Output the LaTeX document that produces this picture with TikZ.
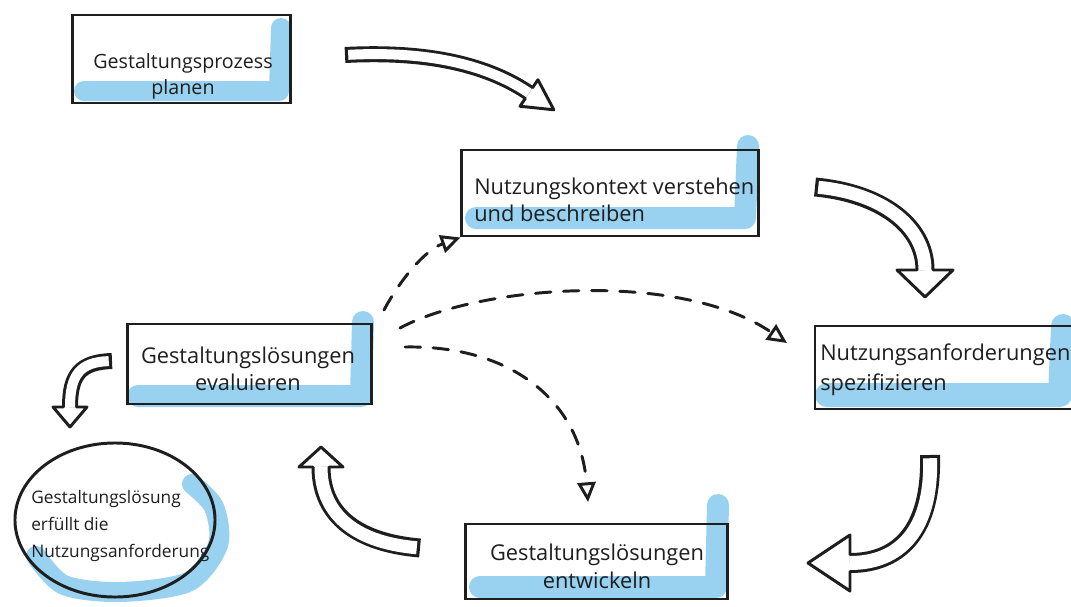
\documentclass[tikz,border=0pt]{standalone}
\usepackage{fontspec}
\setmainfont{Open Sans}
\usetikzlibrary{arrows.meta,decorations.markings,shapes.geometric}
\definecolor{ink}{RGB}{30,30,30}
\definecolor{marker}{RGB}{128,198,236}

% Hollow block arrow: #1 inner shaft width, #2 head half width, #3 head length (all in px), #4 path
\newcommand{\hollowarrow}[4]{%
  \draw[ink, line width={(#1+6)*0.025cm}] #4;
  \draw[white, line width={#1*0.025cm}, shorten <=2.3pt] #4;
  \path[postaction={decorate, decoration={markings, mark=at position 0.9999 with {%
    \draw[ink, line width=2.1pt, line join=round, line cap=round]
      (0,#1/2+1.5) -- (0,#2) -- (#3,0) -- (0,-#2) -- (0,-#1/2-1.5);}}}] #4;
}

\tikzset{
  box/.style={draw=ink, line width=2.1pt, rectangle, inner sep=0pt},
  bubble/.style={draw=ink, line width=2.1pt, ellipse, inner sep=0pt},
  lbl/.style={text=ink, inner sep=0pt, font=\fontsize{15.5}{19}\selectfont},
  hilite/.style={draw=marker, line cap=round, line join=round, opacity=0.8},
  dasharrow/.style={ink, line width=2.1pt, line cap=round, dash pattern=on 11pt off 9pt,
    -{Triangle[open, length=14pt, width=13pt]}},
}

\begin{document}
\begin{tikzpicture}[x=0.025cm, y=-0.025cm]
\useasboundingbox (0,0) rectangle (1071,606);

% marker strokes behind the boxes
\draw[hilite, line width=0.5cm] (84,91) -- (279,91) -- (281,28);
\draw[hilite, line width=0.55cm] (476,218) -- (745,218) -- (748,146);
\draw[hilite, line width=0.6cm] (827,395) -- (1060,395) -- (1063,326);
\draw[hilite, line width=0.55cm] (480,587) -- (716,587) -- (718,505);
\draw[hilite, line width=0.55cm] (138,396) -- (361,396) -- (363,322);
\draw[hilite, line width=0.5cm] plot[smooth] coordinates
  {(36,556) (64,585) (120,592) (188,582) (218,545) (214,507) (192,484)};

% process steps
\node[box, minimum width=5.425cm, minimum height=2.2cm] (plan) at (181.5,59) {};
\node[lbl, align=center, font=\fontsize{14}{18.5}\selectfont] (planlbl) at (183,76)
  {Gestaltungsprozess\\planen};

\node[box, minimum width=7.4cm, minimum height=2.15cm] (kontext) at (610,193) {};
\node[lbl, align=left, anchor=west] (kontextlbl) at (474,200)
  {Nutzungskontext verstehen\\und beschreiben};

\node[box, minimum width=6.625cm, minimum height=2.075cm] (anford) at (947.5,367.5) {};
\node[lbl, align=left, anchor=west, font=\fontsize{15.5}{21}\selectfont] (anfordlbl) at (820,370)
  {Nutzungsanforderungen\\spezifizieren};

\node[box, minimum width=6.525cm, minimum height=1.875cm] (entw) at (596.5,561.5) {};
\node[lbl, align=center, font=\fontsize{15.5}{20}\selectfont] (entwlbl) at (597,566)
  {Gestaltungslösungen\\entwickeln};

\node[box, minimum width=6.075cm, minimum height=2cm] (eval) at (249.5,364) {};
\node[lbl, align=center] (evallbl) at (248,369)
  {Gestaltungslösungen\\evaluieren};

\node[bubble, minimum width=5cm, minimum height=3.85cm] (done) at (115,520) {};
\node[lbl, align=left, anchor=west, font=\fontsize{12.3}{19}\selectfont] (donelbl) at (31,526)
  {Gestaltungslösung\\erfüllt die\\Nutzungsanforderung};

% end points of the block arrows
\coordinate (aS) at (345,55);   \coordinate (aE) at (529,93);
\coordinate (bS) at (815,187);  \coordinate (bE) at (925,270);
\coordinate (cS) at (930,455);  \coordinate (cE) at (850,563);
\coordinate (dS) at (420,548);  \coordinate (dE) at (321,467);
\coordinate (eS) at (112,361);  \coordinate (eE) at (70,407);

\hollowarrow{10}{16}{30}{(aS) .. controls (440,50) and (495,70) .. (aE)}
\hollowarrow{13}{28}{27}{(bS) .. controls (880,193) and (925,225) .. (bE)}
\hollowarrow{14}{28}{42}{(cS) .. controls (932,530) and (900,563) .. (cE)}
\hollowarrow{13}{22}{20}{(dS) .. controls (350,542) and (321,510) .. (dE)}
\hollowarrow{10}{17}{20}{(eS) .. controls (80,362) and (70,375) .. (eE)}

% dashed feedback arrows from the evaluation step
\coordinate (f1S) at (384,310);
\coordinate (f2S) at (400,328);  \coordinate (f2E) at (787,343);
\coordinate (f3S) at (405,347);  \coordinate (f3E) at (588,502);

\draw[dasharrow] (f1S) .. controls (400,280) and (425,250) .. (kontext.south west);
\draw[dasharrow] (f2S) .. controls (480,285) and (680,270) .. (f2E);
\draw[dasharrow] (f3S) .. controls (510,345) and (580,400) .. (f3E);
\end{tikzpicture}
\end{document}
